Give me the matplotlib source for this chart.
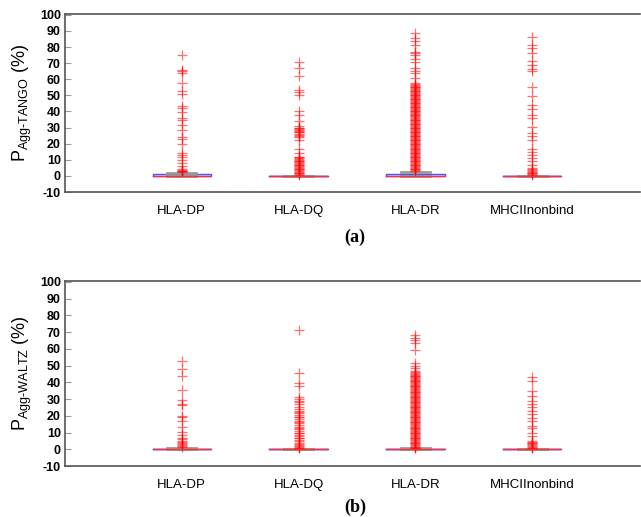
import numpy as np
import matplotlib
matplotlib.use('Agg')
import matplotlib.pyplot as plt

plt.rcParams['font.family'] = ['Liberation Sans', 'DejaVu Sans']
plt.rcParams['mathtext.fontset'] = 'custom'
plt.rcParams['mathtext.rm'] = 'Liberation Sans'
plt.rcParams['mathtext.it'] = 'Liberation Sans'

groups = ['HLA-DP', 'HLA-DQ', 'HLA-DR', 'MHCIInonbind']
yticks = list(range(-10, 101, 10))

# (a) TANGO: box stats per group
tango_q1 = [0, 0, 0, 0]
tango_med = [0, 0, 0, 0]
tango_q3 = [1.4, 0, 1.2, 0]
tango_whishi = [1.9, 0, 2.7, 0]
tango_fliers = [
    [75, 66, 65, 64, 57.5, 52.5, 51, 43.5, 42, 39.5, 36, 34.5, 31.5, 28.5, 24, 23,
     20, 14, 13, 11.5, 10, 8, 6, 4, 3.5, 3.2, 3, 2.8, 2.5],
    [70.5, 67, 62, 53.5, 52, 50.5, 40.5, 37.5, 34, 31, 30, 29.5, 29, 28.5, 28, 27.5,
     27, 26, 25.5, 25, 24, 22.5, 16.5, 14, 12, 11.5, 11, 10.5, 10, 9.5, 9, 8.5, 8,
     7.5, 7, 6.5, 6, 5.5, 5, 4.5, 4, 3.5, 3, 2.5, 2, 1.5, 1, 0.5],
    [89, 85.5, 84, 81.5, 77, 76, 75, 72.5, 70.5, 67, 65, 64, 60.5, 57.5,
     57, 56.5, 56, 55.5, 55, 54.5, 54, 53.5, 53, 52.5, 52, 51.5, 51, 50.5, 50, 49.5,
     49, 48.5, 48, 47.5, 47, 46.5, 46, 45.5, 45, 44.5, 44, 43.5, 43, 42.5, 42, 41.5,
     41, 40.5, 40, 39.5, 39, 38.5, 38, 37.5, 37, 36.5, 36, 35.5, 35, 34.5, 34, 33.5,
     33, 32.5, 32, 31.5, 31, 30.5, 30, 29.5, 29, 28.5, 28, 27.5, 27, 26.5, 26, 25.5,
     25, 24.5, 24, 23.5, 23, 22.5, 22, 21.5, 21, 20.5, 20, 19.5, 19, 18.5, 18, 17.5,
     17, 16.5, 16, 15.5, 15, 14.5, 14, 13.5, 13, 12.5, 12, 11.5, 11, 10.5, 10, 9.5,
     9, 8.5, 8, 7.5, 7, 6.5, 6, 5.5, 5, 4.5, 4, 3.5, 3],
    [86, 81.5, 79.5, 76.5, 71.5, 69, 66.5, 65, 55, 49.5, 44, 41.5, 38, 36, 30.5,
     26.5, 24.5, 22.5, 17, 15, 13, 11, 9, 7, 5, 4, 3.5, 3, 2.5, 2, 1.5, 1, 0.5],
]

# (b) WALTZ
waltz_q1 = [0, 0, 0, 0]
waltz_med = [0, 0, 0, 0]
waltz_q3 = [0, 0, 0.2, 0]
waltz_whishi = [1.0, 0, 0.5, 0]
waltz_fliers = [
    [52.5, 48, 43.5, 35.5, 29.5, 27, 26.5, 20, 19.5, 17, 13.5, 10.5, 8.5, 7, 6, 5,
     4.5, 3.5, 3, 2.5, 2, 1.5],
    [71.5, 45.5, 39.5, 37.5, 31, 30, 29, 28, 27, 25, 24, 23, 22.5, 21.5, 20.5, 19.5,
     19, 18, 17, 16, 15.5, 14.5, 13.5, 13, 12, 11, 10, 9.5, 8.5, 8, 7, 6.5, 5.5, 5,
     4, 3, 2.5, 2, 1.5, 1, 0.5],
    [68, 66.5, 65, 63.5, 59, 51.5, 49.5, 48.5, 47, 46, 45.5, 45, 44.5, 44, 43.5, 43,
     42.5, 42, 41.5, 41, 40.5, 40, 39.5, 39, 38.5, 38, 37.5, 37, 36.5, 36, 35.5, 35,
     34.5, 34, 33.5, 33, 32.5, 32, 31.5, 31, 30.5, 30, 29.5, 29, 28.5, 28, 27.5, 27,
     26.5, 26, 25.5, 25, 24.5, 24, 23.5, 23, 22.5, 22, 21.5, 21, 20.5, 20, 19.5, 19,
     18.5, 18, 17.5, 17, 16.5, 16, 15.5, 15, 14.5, 14, 13.5, 13, 12.5, 12, 11.5, 11,
     10.5, 10, 9.5, 9, 8.5, 8, 7.5, 7, 6.5, 6, 5.5, 5, 4.5, 4, 3.5, 3, 2.5, 2, 1.5,
     1, 0.5],
    [43, 41, 35, 32, 29, 27, 25, 23, 21, 18.5, 17, 14, 12.5, 9.5, 8, 5, 4.5, 4, 3.5,
     3, 2.5, 2, 1.5, 1, 0.5],
]


def make_stats(q1, med, q3, whishi, fliers):
    return [dict(q1=q1[i], med=med[i], q3=q3[i], whislo=q1[i], whishi=whishi[i],
                 fliers=fliers[i], label=groups[i]) for i in range(len(groups))]


def draw_panel(ax, stats, ylab):
    ax.bxp(stats, positions=[1, 2, 3, 4], widths=0.5, capwidths=0.25,
           boxprops=dict(color='#5050ff', linewidth=1),
           medianprops=dict(color='#ff3030', linewidth=1),
           whiskerprops=dict(color='#999999', linewidth=1),
           capprops=dict(color='#999999', linewidth=2),
           flierprops=dict(marker='+', markersize=7, markeredgecolor='red',
                           markeredgewidth=0.9, alpha=0.55, linestyle='none'))
    ax.set_xlim(0, 4.92)
    ax.set_ylim(-10, 100.5)
    ax.set_yticks(yticks)
    ax.set_yticklabels([str(t) for t in yticks], fontweight='bold', fontsize=9)
    ax.set_xticks([1, 2, 3, 4])
    ax.set_xticklabels(groups, fontsize=9.5)
    ax.tick_params(axis='x', length=0, pad=9)
    ax.tick_params(axis='y', direction='in', length=4, color='#999999', pad=3)
    ax.spines['right'].set_visible(False)
    for s in ['left', 'top', 'bottom']:
        ax.spines[s].set_color('#555555')
        ax.spines[s].set_linewidth(1.2)
    ax.set_ylabel(ylab, fontsize=13, labelpad=4)


fig = plt.figure(figsize=(6.41, 5.17), dpi=100)
ax1 = fig.add_axes([0.1014, 0.6286, 0.8966, 0.3443])
ax2 = fig.add_axes([0.1014, 0.0986, 0.8966, 0.3579])

draw_panel(ax1, make_stats(tango_q1, tango_med, tango_q3, tango_whishi, tango_fliers),
           r'P$_{\mathrm{Agg\text{-}TANGO}}$ (%)')
draw_panel(ax2, make_stats(waltz_q1, waltz_med, waltz_q3, waltz_whishi, waltz_fliers),
           r'P$_{\mathrm{Agg\text{-}WALTZ}}$ (%)')

fig.text(0.554, 0.541, '(a)', ha='center', va='center', fontsize=13,
         fontweight='bold', family='Liberation Serif')
fig.text(0.554, 0.019, '(b)', ha='center', va='center', fontsize=13,
         fontweight='bold', family='Liberation Serif')

fig.savefig('out.png', dpi=100)
